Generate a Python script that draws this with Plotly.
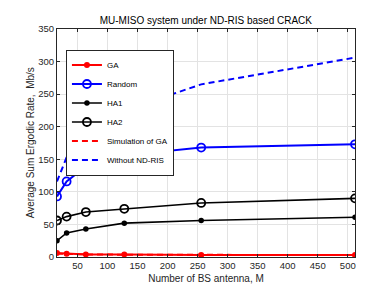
import plotly.graph_objects as go

M = [16, 32, 64, 128, 256, 512]
ga = [6, 5, 4, 4, 3, 3]
random_ = [93, 116, 139, 156, 168, 173]
ha1 = [25, 37, 43, 52, 56, 61]
ha2 = [56, 62, 69, 74, 83, 90]
sim_ga = [5, 4.5, 4, 3.5, 3, 3]
without_ris = [116, 153, 189, 225, 265, 306]

x_ticks = [50, 100, 150, 200, 250, 300, 350, 400, 450, 500]
y_ticks = [0, 50, 100, 150, 200, 250, 300, 350]

FONT = "Liberation Sans, Arial, sans-serif"
AX = "#262626"
DASH = "6px,4px"

fig = go.Figure()
fig.add_trace(go.Scatter(x=M, y=ga, name="GA", mode="lines+markers",
                         line=dict(color="#ff0000", width=2),
                         marker=dict(symbol="circle", size=6, color="#ff0000")))
fig.add_trace(go.Scatter(x=M, y=random_, name="Random", mode="lines+markers",
                         line=dict(color="#0000ff", width=2),
                         marker=dict(symbol="circle-open", size=8, color="#0000ff",
                                     line=dict(width=1.8))))
fig.add_trace(go.Scatter(x=M, y=ha1, name="HA1", mode="lines+markers",
                         line=dict(color="#000000", width=1.6),
                         marker=dict(symbol="circle", size=5.5, color="#000000")))
fig.add_trace(go.Scatter(x=M, y=ha2, name="HA2", mode="lines+markers",
                         line=dict(color="#000000", width=1.6),
                         marker=dict(symbol="circle-open", size=8, color="#000000",
                                     line=dict(width=1.8))))
fig.add_trace(go.Scatter(x=M, y=sim_ga, name="Simulation of GA", mode="lines",
                         line=dict(color="#ff0000", width=2, dash=DASH)))
fig.add_trace(go.Scatter(x=M, y=without_ris, name="Without ND-RIS", mode="lines",
                         line=dict(color="#0000ff", width=2, dash=DASH)))

axis_common = dict(
    showline=True, linecolor=AX, linewidth=1, mirror="ticks",
    ticks="inside", ticklen=3, tickcolor=AX,
    showgrid=True, gridcolor="#e3e3e3", gridwidth=1,
    zeroline=False,
    tickfont=dict(family=FONT, size=9.5, color=AX),
)

fig.update_layout(
    width=382, height=286,
    margin=dict(l=49, r=35, t=21, b=32),
    paper_bgcolor="white", plot_bgcolor="white",
    title=dict(text="MU-MISO system under ND-RIS based CRACK",
               font=dict(family=FONT, size=10, color="#000000"),
               x=0.518, xanchor="center", y=0.955, yanchor="middle"),
    xaxis=dict(range=[16, 512], tickvals=x_ticks,
               title=dict(text="Number of BS antenna, M", standoff=4,
                          font=dict(family=FONT, size=10, color=AX)),
               **axis_common),
    yaxis=dict(range=[0, 350], tickvals=y_ticks, **axis_common),
    annotations=[dict(text="Average Sum Ergodic Rate,  Mb/s", textangle=-90,
                      xref="paper", yref="paper", x=-0.09, y=0.5,
                      xanchor="center", yanchor="middle", showarrow=False,
                      font=dict(family=FONT, size=10, color=AX))],
    legend=dict(x=0.03, y=0.91, xanchor="left", yanchor="top",
                bgcolor="white", bordercolor="#262626", borderwidth=1,
                font=dict(family=FONT, size=8, color="#000000"),
                itemwidth=30, tracegroupgap=0),
    showlegend=True,
)

fig.write_html("out.html")
